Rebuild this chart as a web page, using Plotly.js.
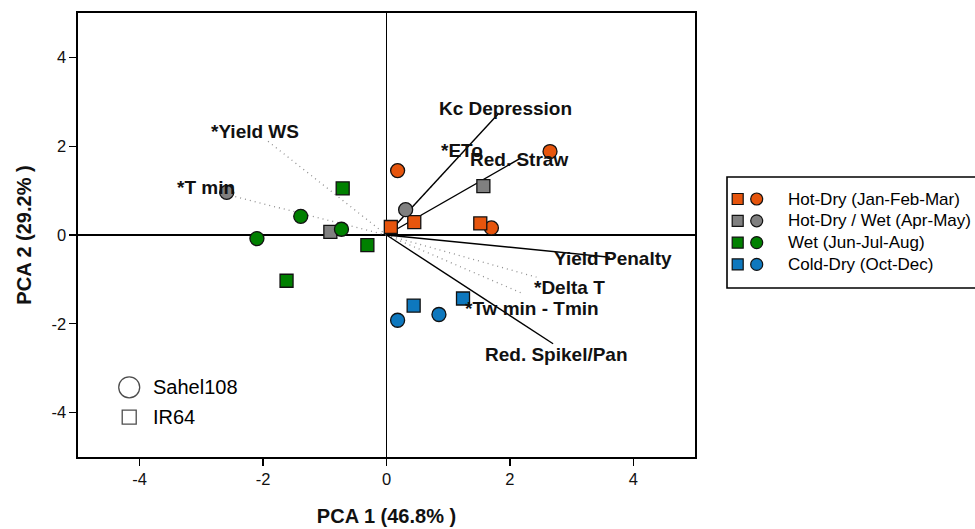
<!DOCTYPE html>
<html>
<head>
<meta charset="utf-8">
<script src="https://cdn.plot.ly/plotly-3.0.1.min.js"></script>
<style>html,body{margin:0;padding:0;background:#fff}#chart{width:975px;height:529px}</style>
</head>
<body>
<div id="chart"></div>
<script>
// ---------- data ----------
const categories = ['Hot-Dry (Jan-Feb-Mar)', 'Hot-Dry / Wet (Apr-May)', 'Wet (Jun-Jul-Aug)', 'Cold-Dry (Oct-Dec)'];
const genotypes = ['Sahel108', 'IR64'];

// Sahel108 (circles)
const hotDrySahelX = [0.18, 2.65, 1.70];
const hotDrySahelY = [1.45, 1.88, 0.16];
const hotWetSahelX = [-2.59, 0.31];
const hotWetSahelY = [0.96, 0.57];
const wetSahelX = [-1.39, -0.73, -2.10];
const wetSahelY = [0.42, 0.13, -0.08];
const coldSahelX = [0.18, 0.85];
const coldSahelY = [-1.92, -1.79];

// IR64 (squares)
const hotDryIR64X = [0.07, 0.45, 1.52];
const hotDryIR64Y = [0.18, 0.29, 0.26];
const hotWetIR64X = [1.57, -0.91];
const hotWetIR64Y = [1.10, 0.07];
const wetIR64X = [-0.71, -0.31, -1.62];
const wetIR64Y = [1.05, -0.23, -1.03];
const coldIR64X = [0.44, 1.24];
const coldIR64Y = [-1.59, -1.43];

// loading vectors
const solidVarNames = ['Kc Depression', 'Red. Straw', 'Yield Penalty', 'Red. Spikel/Pan'];
const solidVarX = [1.82, 2.16, 3.62, 2.70];
const solidVarY = [2.74, 1.72, -0.50, -2.45];
const solidLabelX = [1.93, 2.15, 3.67, 2.76];
const solidLabelY = [2.85, 1.70, -0.53, -2.69];

const dotVarNames = ['*ETo', '*Delta T', '*Tw min - Tmin', '*Yield WS', '*T min'];
const dotVarX = [1.00, 2.43, 2.21, -1.92, -2.70];
const dotVarY = [1.50, -0.95, -1.32, 2.11, 0.95];
const dotLabelX = [1.22, 2.97, 2.35, -2.13, -2.93];
const dotLabelY = [1.91, -1.19, -1.65, 2.32, 1.08];

const tickVals = [-4, -2, 0, 2, 4];
const tickText = ['-4', '-2', '0', '2', '4'];

// ---------- styles ----------
const colors = ['#E6550D', '#808080', '#008000', '#0E78BE'];
const FONT = 'Arial, "Liberation Sans", sans-serif';

const sahelX = [hotDrySahelX, hotWetSahelX, wetSahelX, coldSahelX];
const sahelY = [hotDrySahelY, hotWetSahelY, wetSahelY, coldSahelY];
const irX = [hotDryIR64X, hotWetIR64X, wetIR64X, coldIR64X];
const irY = [hotDryIR64Y, hotWetIR64Y, wetIR64Y, coldIR64Y];

const traces = [];

function vecTrace(vx, vy, dash, color, width) {
  const x = [], y = [];
  vx.forEach((v, i) => { x.push(0, v, null); y.push(0, vy[i], null); });
  return {x, y, mode: 'lines', type: 'scatter', hoverinfo: 'skip', showlegend: false,
          line: {color: color, width: width, dash: dash}};
}
traces.push(vecTrace(dotVarX, dotVarY, '1px,4px', '#8f8f8f', 1.3));
traces.push(vecTrace(solidVarX, solidVarY, 'solid', '#000', 1.4));

categories.forEach((c, i) => {
  traces.push({x: sahelX[i], y: sahelY[i], mode: 'markers', type: 'scatter', name: c + ' ' + genotypes[0],
    showlegend: false, marker: {symbol: 'circle', size: 14, color: colors[i], line: {color: '#111', width: 1.3}}});
  traces.push({x: irX[i], y: irY[i], mode: 'markers', type: 'scatter', name: c + ' ' + genotypes[1],
    showlegend: false, marker: {symbol: 'square', size: 13, color: colors[i], line: {color: '#111', width: 1.3}}});
});

// genotype key (inside plot)
const keyX = [-4.17, -4.17];
const keyY = [-3.43, -4.10];
traces.push({x: keyX, y: keyY, mode: 'markers', type: 'scatter', showlegend: false, hoverinfo: 'skip',
  marker: {symbol: ['circle-open', 'square-open'], size: [21, 14], color: '#000', line: {width: 1.3}}});

// category legend (overlay axis)
const rowY = categories.map((c, i) => 22 + 21.8 * i);
traces.push({x: categories.map(() => 10.7), y: rowY, xaxis: 'x2', yaxis: 'y2', mode: 'markers', type: 'scatter',
  showlegend: false, hoverinfo: 'skip',
  marker: {symbol: 'square', size: 11, color: colors, line: {color: '#111', width: 1.2}}});
traces.push({x: categories.map(() => 29.7), y: rowY, xaxis: 'x2', yaxis: 'y2', mode: 'markers', type: 'scatter',
  showlegend: false, hoverinfo: 'skip',
  marker: {symbol: 'circle', size: 12, color: colors, line: {color: '#111', width: 1.2}}});

const annotations = [];
solidVarNames.forEach((n, i) => annotations.push({x: solidLabelX[i], y: solidLabelY[i], text: '<b>' + n + '</b>',
  showarrow: false, font: {family: FONT, size: 19, color: '#111'}}));
dotVarNames.forEach((n, i) => annotations.push({x: dotLabelX[i], y: dotLabelY[i], text: '<b>' + n + '</b>',
  showarrow: false, font: {family: FONT, size: 19, color: '#111'}}));
genotypes.forEach((g, i) => annotations.push({x: keyX[i] + 0.35, y: keyY[i], text: g, xanchor: 'left',
  showarrow: false, font: {family: FONT, size: 20, color: '#000'}}));
categories.forEach((c, i) => annotations.push({x: 58.7, y: rowY[i], xref: 'x2', yref: 'y2', text: c, xanchor: 'left',
  showarrow: false, font: {family: FONT, size: 17, color: '#000'}}));

const W = 975, H = 529;
const layout = {
  width: W, height: H,
  margin: {l: 0, r: 0, t: 0, b: 0},
  paper_bgcolor: '#fff', plot_bgcolor: '#fff',
  showlegend: false,
  font: {family: FONT, color: '#000'},
  xaxis: {
    domain: [78 / W, 695 / W], range: [-5, 5], tickvals: tickVals, ticktext: tickText,
    showgrid: false, zeroline: true, zerolinecolor: '#000', zerolinewidth: 1.4,
    showline: true, mirror: true, linecolor: '#000', linewidth: 1.6,
    ticks: 'outside', ticklen: 7, tickwidth: 1.3, tickcolor: '#000',
    tickfont: {family: FONT, size: 16.5, color: '#111'},
    title: {text: '<b>PCA 1 (46.8% )</b>', font: {family: FONT, size: 20, color: '#111'}, standoff: 21}
  },
  yaxis: {
    domain: [(H - 457) / H, (H - 13) / H], range: [-5, 5], tickvals: tickVals, ticktext: tickText,
    showgrid: false, zeroline: true, zerolinecolor: '#000', zerolinewidth: 1.4,
    showline: true, mirror: true, linecolor: '#000', linewidth: 1.6,
    ticks: 'outside', ticklen: 7, tickwidth: 1.3, tickcolor: '#000',
    tickfont: {family: FONT, size: 16.5, color: '#111'},
    title: {text: '<b>PCA 2 (29.2% )</b>', font: {family: FONT, size: 20, color: '#111'}, standoff: 14}
  },
  xaxis2: {domain: [727 / W, 1], range: [0, 248], visible: false, fixedrange: true},
  yaxis2: {domain: [(H - 288) / H, (H - 177) / H], range: [111, 0], visible: false, fixedrange: true},
  shapes: [{type: 'rect', xref: 'paper', yref: 'paper', x0: 727 / W, x1: 1.01, y0: (H - 288) / H, y1: (H - 177) / H,
            line: {color: '#000', width: 1.6}, fillcolor: 'rgba(0,0,0,0)'}],
  annotations: annotations
};

Plotly.newPlot('chart', traces, layout, {displayModeBar: false, staticPlot: true});
</script>
</body>
</html>
